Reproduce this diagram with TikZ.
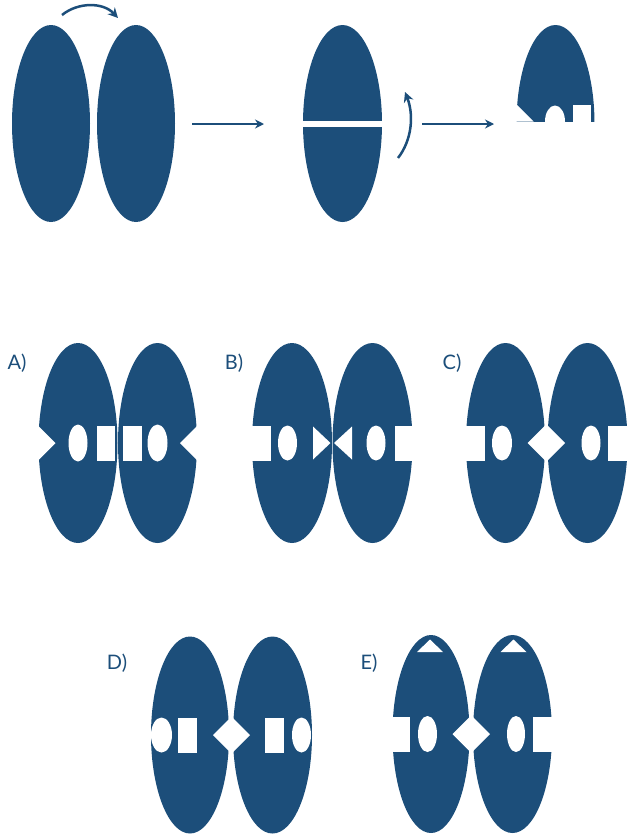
\documentclass[tikz,border=0pt]{standalone}
\usepackage{fontspec}
\setmainfont{Lato}
\usetikzlibrary{arrows.meta}
\definecolor{pblue}{RGB}{28,78,122}
\tikzset{
  blob/.style={fill=pblue},
  hole/.style={fill=white},
  arr/.style={draw=pblue, line width=2pt, -{Stealth[length=9pt,width=9pt]}},
  carr/.style={draw=pblue, line width=2.5pt, -{Stealth[length=10pt,width=10pt]}},
  lbl/.style={text=pblue, font=\fontsize{20}{24}\selectfont, inner sep=0pt},
}
% feature macros in local coordinates of one ellipse (+x = inner side)
\newcommand\Blob[2]{\fill[blob] (0,0) ellipse [x radius=#1, y radius=#2];}
\newcommand\Dnotch[2]{\fill[hole] (#1,-#2) -- (#1+#2,0) -- (#1,#2) -- (#1-#2,0) -- cycle;}
\newcommand\Ohole[3]{\fill[hole] (#1,0) ellipse [x radius=#2, y radius=#3];}
\newcommand\Rhole[2]{\fill[hole] (#1,-17.5) rectangle (#2,17.5);}
\newcommand\Trihole[2]{\fill[hole] (#1,-16.5) -- (#2,0) -- (#1,16.5) -- cycle;}
\newcommand\Tophole{\fill[hole] (-14,-82) -- (-1,-94.5) -- (12,-82) -- cycle;}
\begin{document}
\begin{tikzpicture}[x=1pt,y=-1pt]
\useasboundingbox (0,0) rectangle (635,838);

% ---------------- top row ----------------
\fill[blob] (51,123.5) ellipse [x radius=39, y radius=98.5];
\fill[blob] (136,123.5) ellipse [x radius=39, y radius=98.5];
\fill[blob] (342.5,123.5) ellipse [x radius=39.5, y radius=98.5];
\fill[hole] (298,121) rectangle (388,127);

% folded and cut piece
\begin{scope}
  \clip (500,0) rectangle (610,121.5);
  \fill[blob] (555.5,123.5) ellipse [x radius=39, y radius=98.5];
  \fill[hole] (516.5,104.5) -- (533.5,121.5) -- (505,121.5) -- (505,104.5) -- cycle;
  \fill[hole] (555,121.5) ellipse [x radius=10, y radius=16];
  \fill[hole] (572.5,105) rectangle (591,122);
\end{scope}

% arrows
\coordinate (c1s) at (62,15);
\coordinate (c1e) at (118,18);
\draw[carr] (c1s) .. controls (78,2) and (103,2) .. (c1e);
\coordinate (a1s) at (192,124);
\coordinate (a1e) at (264,124);
\draw[arr] (a1s) -- (a1e);
\coordinate (c2s) at (398,158);
\coordinate (c2e) at (405,92);
\draw[carr] (c2s) .. controls (412,140) and (414,115) .. (c2e);
\coordinate (a2s) at (422,124);
\coordinate (a2e) at (494,124);
\draw[arr] (a2s) -- (a2e);

% ---------------- options: blue bodies first ----------------
\begin{scope}[shift={(78,443)}]\Blob{39.5}{100}\end{scope}
\begin{scope}[shift={(157.5,443)}]\Blob{39.5}{100}\end{scope}
\begin{scope}[shift={(292,443)}]\Blob{40}{100}\end{scope}
\begin{scope}[shift={(372.5,443)}]\Blob{40}{100}\end{scope}
\begin{scope}[shift={(505.5,443)}]\Blob{39.5}{100}\end{scope}
\begin{scope}[shift={(587.5,443)}]\Blob{40}{100}\end{scope}
\begin{scope}[shift={(190,735)}]\Blob{39}{98.5}\end{scope}
\begin{scope}[shift={(272.5,735)}]\Blob{39.5}{98.5}\end{scope}
\begin{scope}[shift={(431,734)}]\Blob{38.5}{99}\end{scope}
\begin{scope}[shift={(512.5,734)}]\Blob{39.5}{99}\end{scope}

% ---------------- options: white cut-outs ----------------
% A
\begin{scope}[shift={(78,443)}]
  \Dnotch{-39.5}{17}\Ohole{0}{9.5}{18.5}\Rhole{18.5}{37}
\end{scope}
\begin{scope}[shift={(157.5,443)},xscale=-1]
  \Dnotch{-39.5}{17}\Ohole{0}{10}{18.5}\Rhole{16}{34.5}
\end{scope}
% B
\begin{scope}[shift={(292,443)}]
  \Rhole{-46}{-21}\Ohole{-4.5}{9.5}{17.5}\Trihole{21}{38.5}
\end{scope}
\begin{scope}[shift={(372.5,443)},xscale=-1]
  \Rhole{-46}{-22.5}\Ohole{-3.5}{9.5}{17.5}\Trihole{20.5}{38.5}
\end{scope}
% C
\begin{scope}[shift={(505.5,443)}]
  \Rhole{-46}{-20.5}\Ohole{-3.5}{10}{17.5}\Dnotch{39.5}{17.5}
\end{scope}
\begin{scope}[shift={(587.5,443)},xscale=-1]
  \Rhole{-46}{-20.5}\Ohole{-3.5}{9.5}{17.5}\Dnotch{40}{17.5}
\end{scope}
% D
\begin{scope}[shift={(190,735)}]
  \Ohole{-28.5}{10.5}{17.5}\Rhole{-12}{7}\Dnotch{39}{16}
\end{scope}
\begin{scope}[shift={(272.5,735)},xscale=-1]
  \Ohole{-29}{9.5}{17.5}\Rhole{-11.5}{7.5}\Dnotch{39.5}{17}
\end{scope}
% E
\begin{scope}[shift={(431,734)}]
  \Tophole\Rhole{-45}{-21}\Ohole{-3.5}{9.5}{18}\Dnotch{38.5}{17}
\end{scope}
\begin{scope}[shift={(512.5,734)},xscale=-1]
  \Tophole\Rhole{-46}{-20.5}\Ohole{-3.5}{9}{18}\Dnotch{39.5}{17}
\end{scope}

% labels
\node[lbl] (la) at (17,363) {A)};
\node[lbl] (lb) at (234,363) {B)};
\node[lbl] (lc) at (452,363) {C)};
\node[lbl] (ld) at (117,663) {D)};
\node[lbl] (le) at (369,663) {E)};
\end{tikzpicture}
\end{document}
